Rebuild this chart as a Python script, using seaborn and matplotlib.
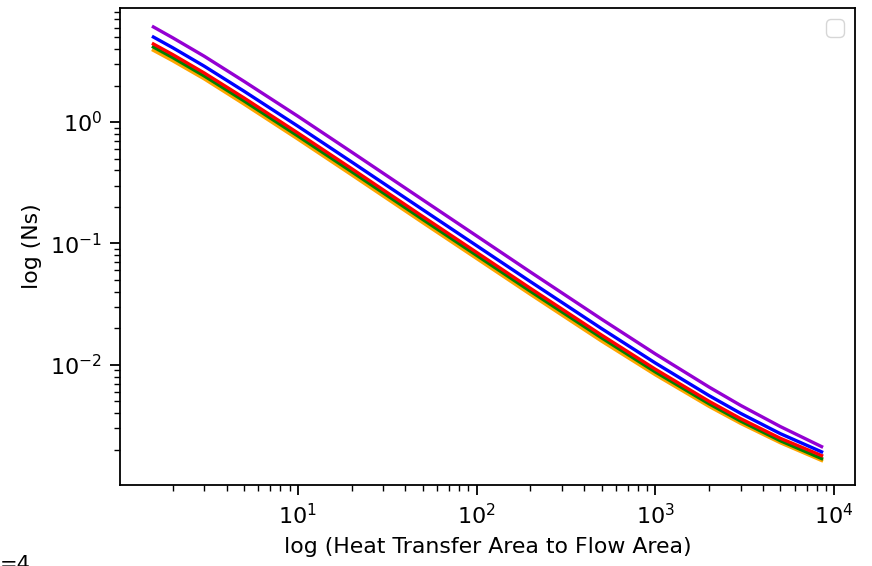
import warnings
warnings.filterwarnings("ignore")
import numpy as np
import pandas as pd
import matplotlib
matplotlib.use("Agg")
import matplotlib.pyplot as plt
import seaborn as sns

# Data
area_ratio = [1.56, 2, 3, 5, 10, 20, 50, 100, 200, 500, 1000, 2000, 3000, 5000, 8500]
ns_purple = [6.08, 4.95, 3.49, 2.17, 1.12, 0.567, 0.229, 0.1155, 0.0582, 0.0238, 0.0123, 0.00655, 0.00463, 0.0031, 0.00212]
ns_blue   = [5.02, 4.10, 2.89, 1.80, 0.927, 0.470, 0.190, 0.0960, 0.0485, 0.0199, 0.01035, 0.00557, 0.00398, 0.00271, 0.00192]
ns_red    = [4.40, 3.60, 2.54, 1.584, 0.815, 0.414, 0.1669, 0.0845, 0.0427, 0.0176, 0.0092, 0.0050, 0.00360, 0.00248, 0.00179]
ns_green  = [4.15, 3.40, 2.40, 1.497, 0.770, 0.391, 0.1578, 0.0799, 0.0404, 0.0167, 0.00874, 0.00477, 0.00344, 0.00237, 0.00169]
ns_orange = [3.90, 3.20, 2.27, 1.41, 0.726, 0.368, 0.1486, 0.0753, 0.0381, 0.0157, 0.00828, 0.00454, 0.00329, 0.00228, 0.00163]

series_names = ["purple", "blue", "red", "green", "orange"]
series_vals = [ns_purple, ns_blue, ns_red, ns_green, ns_orange]
colors = {"purple": "#9400D3", "blue": "#0000FF", "red": "#FF0000",
          "green": "#008000", "orange": "#FFA500"}

rows = []
for name, vals in zip(series_names, series_vals):
    for x, y in zip(area_ratio, vals):
        rows.append({"x": x, "y": y, "series": name})
df = pd.DataFrame(rows)

plt.rcParams["font.family"] = ["DejaVu Sans"]
fig = plt.figure(figsize=(8.72, 5.66), dpi=100)
ax = fig.add_axes([0.1376, 0.1431, 0.8429, 0.8428])

# draw bottom-most first so order matches (orange under green)
for name in ["orange", "green", "red", "blue", "purple"]:
    sub = df[df["series"] == name]
    sns.lineplot(data=sub, x="x", y="y", color=colors[name], linewidth=2.4,
                 ax=ax, legend=False, sort=False, estimator=None)

ax.set_xscale("log")
ax.set_yscale("log")
ax.set_ylim(10 ** -2.99, 10 ** 0.94)
ax.set_xlabel("log (Heat Transfer Area to Flow Area)", fontsize=15.8, labelpad=6)
ax.set_ylabel("log (Ns)", fontsize=15.8, labelpad=6)
ax.tick_params(axis="both", which="major", labelsize=16, length=7, width=1.3, pad=6)
ax.tick_params(axis="both", which="minor", length=4, width=1.0)
for sp in ax.spines.values():
    sp.set_linewidth(1.3)

ax.legend(fontsize=16, loc="upper right")

fig.text(0.0, 0.0194, "=4", fontsize=15, va="top", ha="left")

fig.savefig("out.png", dpi=100)
